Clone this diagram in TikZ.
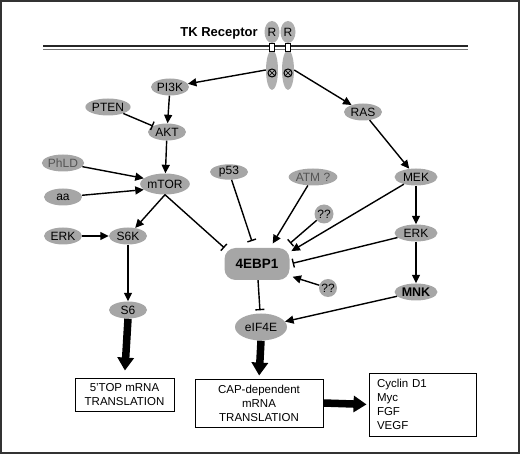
\documentclass[tikz,border=0pt]{standalone}
\usepackage{fontspec}
\setmainfont{Liberation Sans}
\usepackage{xcolor}
\usetikzlibrary{arrows.meta,shapes.geometric,calc}
\definecolor{protgray}{gray}{0.65}
\definecolor{labgray}{gray}{0.33}
\definecolor{framegray}{gray}{0.2}

\begin{document}
\begin{tikzpicture}[x=1pt,y=-1pt]
	\useasboundingbox (0,0) rectangle (520,454);
	\draw[framegray,line width=1.5pt] (1,1) rectangle (519,453);
	
	% membrane %
	\draw[line width=1.3pt,black!85] (43,46) -- (468,46);
	\draw[line width=0.8pt,black!55] (43,49) -- (468,49);
	\node[font=\bfseries\fontsize{13}{15}\selectfont] (tk) at (219,33) {TK Receptor};
	
	\begin{scope}[every node/.style={ellipse,fill=protgray!90,inner sep=0pt}]
		\foreach \x/\n in {272/1,288/2} {
			\node[minimum width=12pt,minimum height=40pt] (low\n) at (\x,70) {};
			\node[minimum width=15pt,minimum height=22pt,font=\fontsize{12}{14}\selectfont] (r\n) at (\x,32) {R};
			\node[rectangle,draw,fill=white,line width=1pt,minimum width=5pt,minimum height=8pt] (tm\n) at (\x,47.5) {};
			\node[circle,draw,line width=1pt,minimum size=8pt] (kin\n) at (\x,73) {};
			\draw[line width=0.7pt] (kin\n.45) -- (kin\n.225) (kin\n.135) -- (kin\n.-45);
		}
	\end{scope}
	
	\begin{scope}[every node/.style={ellipse,fill=protgray,inner sep=0pt,
			minimum width=38pt,minimum height=17pt,font=\fontsize{12}{14}\selectfont}]
		\node (pi3k) at (170,87) {PI3K};
		\node (ras) at (363,112) {RAS};
		\node (pten) at (108,107) {PTEN};
		\node (akt) at (167,132) {AKT};
		\node[text=labgray] (phld) at (63,163) {PhLD};
		\node (aa) at (63,197) {aa};
		\node[minimum width=48pt,minimum height=21pt] (mtor) at (165,184) {mTOR};
		\node (erkl) at (63,236) {ERK};
		\node (s6k) at (128,236) {S6K};
		\node (s6) at (128,310) {S6};
		\node[minimum height=15pt] (p53) at (229,172) {p53};
		\node[text=labgray] (atm) at (313,177) {ATM ?};
		\node[circle,minimum size=19pt] (qa) at (324,214) {??};
		\node[rectangle,rounded corners=11pt,minimum width=65pt,minimum height=32pt,
			font=\bfseries\fontsize{13.5}{15}\selectfont] (ebp) at (257,264) {4EBP1};
		\node[circle,minimum size=18pt] (qb) at (328,288) {??};
		\node[minimum width=43pt] (mek) at (416,177) {MEK};
		\node[minimum width=43pt] (erkr) at (416,233) {ERK};
		\node[minimum width=43pt,font=\bfseries\fontsize{12.5}{14}\selectfont] (mnk) at (416,292) {MNK};
		\node[minimum width=52pt,minimum height=27pt] (eif) at (261,327) {eIF4E};
	\end{scope}
	
	\begin{scope}[every node/.style={draw,line width=0.9pt,align=center,inner sep=0pt,
			font=\fontsize{11.5}{14}\selectfont}]
		\node[minimum width=99pt,minimum height=33pt] (top) at (124.5,394.5) {5’TOP mRNA\\TRANSLATION};
		\node[minimum width=128pt,minimum height=48pt] (cap) at (259,403) {CAP-dependent\\mRNA\\TRANSLATION};
		\node[text width=91pt,align=left,inner xsep=8pt,minimum height=63pt] (tgt) at (422.5,404.5) {Cyclin D1\\Myc\\FGF\\VEGF};
	\end{scope}
	
	\begin{scope}[line width=1.4pt,>={Triangle[length=8.5pt,width=8pt]},
		inh/.style={-{Bar[width=9pt]}}]
		\path [->] (low1.west) edge (pi3k);
		\path [->] (low2.east) edge (ras);
		\path [->] (pi3k) edge (akt);
		\path (pten) edge [inh] (akt);
		\path [->] (akt) edge (mtor);
		\path [->] (phld) edge (mtor.165);
		\path [->] (aa) edge (mtor.195);
		\path [->] (mtor.south) edge (s6k);
		\path (mtor.south) edge [inh] (ebp.north west);%mTOR%
		\path [->] (erkl) edge (s6k);
		\path [->] (s6k) edge (s6);
		
		\path (p53) edge [inh,shorten >=7pt] (ebp.100);
		\path [->] (atm) edge [shorten >=5pt] ($(ebp.north)!0.4!(ebp.north east)$);
		\path (qa) edge [inh,shorten >=7pt] ($(ebp.north)!0.85!(ebp.north east)$);
		\path [->] (mek) edge [shorten >=2pt] (ebp.20);
		\path (erkr) edge [inh,shorten >=3pt] (ebp.east);
		\path [->] (qb) edge [shorten >=3pt] (ebp.-20);
		
		\path [->] (ras) edge (mek);
		\path [->] (mek) edge (erkr);
		\path [->] (erkr) edge (mnk);
		\path [->] (mnk) edge (eif);
		\path (ebp) edge [inh,shorten >=3pt] (eif);
	\end{scope}
	
	% translation output %
	\begin{scope}[line width=7.5pt,-{Triangle[length=13pt,width=16pt]}]
		\draw[shorten >=7pt] (s6.south) -- (top.north);
		\draw[shorten >=3pt] (eif.south) -- (cap.north);
		\draw[shorten >=2pt] (cap.east) -- (tgt.west);
	\end{scope}
\end{tikzpicture}
\end{document}
